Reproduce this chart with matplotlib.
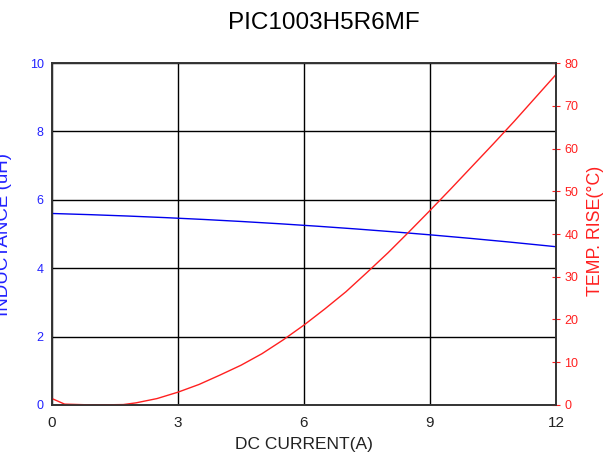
import numpy as np
import matplotlib.pyplot as plt

plt.rcParams['font.family'] = ['Liberation Sans', 'DejaVu Sans']

current = [0, 3, 6, 9, 12]
inductance = [5.6, 5.46, 5.26, 4.97, 4.63]

temp_current = [0, 0.3, 1.0, 1.7, 2.0, 2.5, 3, 3.5, 4, 4.5, 5, 5.5, 6, 6.5,
                7, 7.5, 8, 8.5, 9, 9.5, 10, 10.5, 11, 11.5, 12]
temp_rise = [1.5, 0.2, 0, 0.1, 0.5, 1.5, 3, 4.8, 7, 9.3, 12, 15.2, 18.7, 22.5,
             26.5, 31, 35.6, 40.5, 45.5, 50.6, 55.8, 61, 66.3, 71.8, 77.3]

xticks = [0, 3, 6, 9, 12]
left_ticks = [0, 2, 4, 6, 8, 10]
right_ticks = [0, 10, 20, 30, 40, 50, 60, 70, 80]

blue = '#2222ff'
red = '#ff2020'

fig = plt.figure(figsize=(6.14, 4.63), dpi=100)
ax = fig.add_axes([0.0847, 0.1253, 0.8208, 0.7386])
ax2 = ax.twinx()

# smooth inductance curve through the read-off points
xs = np.linspace(0, 12, 200)
ind_fit = np.polyval(np.polyfit(current, inductance, 2), xs)
ax.plot(xs, ind_fit, color='#0000ee', lw=1)
ax2.plot(temp_current, temp_rise, color=red, lw=1)

ax.set_xlim(0, 12)
ax.set_ylim(0, 10)
ax2.set_ylim(0, 80)
ax.set_xticks(xticks)
ax.set_yticks(left_ticks)
ax2.set_yticks(right_ticks)

ax.grid(True, color='black', lw=1)
ax.tick_params(axis='y', length=0, colors=blue, labelsize=9, pad=6)
ax.tick_params(axis='x', length=0, labelsize=11, pad=8, labelcolor='#222222')
ax2.tick_params(axis='y', direction='inout', length=6, colors=red, labelsize=9, pad=3)

for a in (ax, ax2):
    for s in a.spines.values():
        s.set_color('#333333')
        s.set_linewidth(1.2)

ax.set_ylabel('INDUCTANCE (uH)', color=blue, fontsize=13.5)
ax.yaxis.set_label_coords(-0.079, 0.5)
ax2.set_ylabel('TEMP. RISE(\u00b0C)', color=red, fontsize=12.8, labelpad=6)
ax2.yaxis.set_label_coords(1.062, 0.51)
ax.set_xlabel('DC CURRENT(A)', fontsize=12.5, color='#222222', labelpad=5)
fig.suptitle('PIC1003H5R6MF', fontsize=17.5, x=0.528, y=0.975)

fig.savefig('out.png', dpi=100)
